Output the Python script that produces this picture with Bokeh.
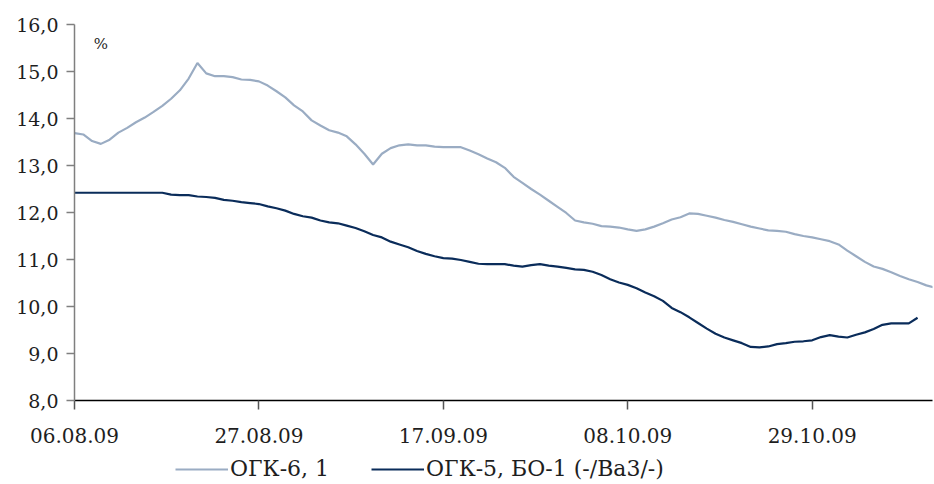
from datetime import datetime, timedelta

from bokeh.embed import file_html
from bokeh.layouts import column
from bokeh.models import (ColumnDataSource, DatetimeTickFormatter, FixedTicker,
                          Label, Legend, LegendItem, Range1d)
from bokeh.plotting import figure
from bokeh.resources import INLINE

# Daily yields, %, starting 06.08.09
start_date = "06.08.09"
ogk6_yield = [
    13.69, 13.66, 13.52, 13.46, 13.55, 13.70, 13.80, 13.92, 14.02, 14.14,
    14.27, 14.42, 14.60, 14.85, 15.18, 14.96, 14.90, 14.90, 14.88, 14.83,
    14.82, 14.79, 14.70, 14.58, 14.45, 14.28, 14.15, 13.96, 13.85, 13.75,
    13.70, 13.62, 13.45, 13.25, 13.02, 13.25, 13.37, 13.43, 13.45, 13.43,
    13.43, 13.40, 13.39, 13.39, 13.39, 13.32, 13.24, 13.15, 13.07, 12.95,
    12.76, 12.63, 12.50, 12.38, 12.25, 12.12, 11.99, 11.83, 11.79, 11.76,
    11.71, 11.70, 11.68, 11.64, 11.61, 11.64, 11.70, 11.77, 11.85, 11.90,
    11.98, 11.97, 11.93, 11.89, 11.84, 11.80, 11.75, 11.70, 11.66, 11.62,
    11.61, 11.59, 11.54, 11.50, 11.47, 11.43, 11.39, 11.32, 11.19, 11.07,
    10.95, 10.85, 10.80, 10.73, 10.65, 10.58, 10.52, 10.45, 10.40,
]
ogk5_yield = [
    12.42, 12.42, 12.42, 12.42, 12.42, 12.42, 12.42, 12.42, 12.42, 12.42,
    12.42, 12.38, 12.37, 12.37, 12.34, 12.33, 12.31, 12.27, 12.25, 12.22,
    12.20, 12.18, 12.13, 12.09, 12.04, 11.97, 11.92, 11.89, 11.83, 11.79,
    11.77, 11.72, 11.67, 11.60, 11.52, 11.47, 11.38, 11.32, 11.26, 11.18,
    11.12, 11.07, 11.03, 11.02, 10.99, 10.95, 10.91, 10.90, 10.90, 10.90,
    10.87, 10.85, 10.88, 10.90, 10.87, 10.85, 10.82, 10.79, 10.78, 10.74,
    10.67, 10.58, 10.51, 10.46, 10.39, 10.30, 10.22, 10.12, 9.97, 9.88,
    9.77, 9.65, 9.53, 9.42, 9.34, 9.28, 9.22, 9.14, 9.13, 9.15,
    9.20, 9.22, 9.25, 9.26, 9.28, 9.35, 9.39, 9.36, 9.34, 9.40,
    9.45, 9.52, 9.61, 9.64, 9.64, 9.64, 9.76,
]
x_tick_labels = ["06.08.09", "27.08.09", "17.09.09", "08.10.09", "29.10.09"]
y_ticks = [8, 9, 10, 11, 12, 13, 14, 15, 16]
series_names = ["ОГК-6, 1", "ОГК-5, БО-1 (-/Ba3/-)"]

LIGHT = "#9aacc3"
DARK = "#0a2c5a"
FONT = "DejaVu Serif"
TEXT = "#1e1e1e"


def to_ms(d):
    return (d - datetime(1970, 1, 1)).total_seconds() * 1000


day0 = datetime.strptime(start_date, "%d.%m.%y")
dates6 = [day0 + timedelta(days=i) for i in range(len(ogk6_yield))]
dates5 = [day0 + timedelta(days=i) for i in range(len(ogk5_yield))]
tick_ms = [to_ms(datetime.strptime(t, "%d.%m.%y")) for t in x_tick_labels]

src6 = ColumnDataSource(data=dict(date=dates6, y=ogk6_yield))
src5 = ColumnDataSource(data=dict(date=dates5, y=ogk5_yield))

p = figure(width=934, height=452, x_axis_type="datetime",
           output_backend="svg", toolbar_location=None,
           min_border_left=74, min_border_right=2, min_border_top=24,
           min_border_bottom=52)
p.x_range = Range1d(to_ms(day0), to_ms(day0 + timedelta(days=97.7)))
p.y_range = Range1d(8, 16)

r6 = p.line("date", "y", source=src6, color=LIGHT, line_width=2.2)
r5 = p.line("date", "y", source=src5, color=DARK, line_width=2.2)

p.grid.visible = False
p.outline_line_color = None
p.background_fill_color = "white"
p.border_fill_color = "white"

# y axis
ya = p.yaxis[0]
ya.ticker = FixedTicker(ticks=y_ticks)
ya.major_label_overrides = {t: f"{t},0" for t in y_ticks}
ya.axis_line_color = "#7f7f7f"
ya.axis_line_width = 1.5
ya.major_tick_line_color = "#7f7f7f"
ya.major_tick_line_width = 1.5
ya.major_tick_out = 8
ya.major_tick_in = 0
ya.minor_tick_out = 0
ya.minor_tick_in = 0
ya.major_label_standoff = 8
ya.major_label_text_font = FONT
ya.major_label_text_font_size = "19px"
ya.major_label_text_color = TEXT

# x axis
xa = p.xaxis[0]
xa.ticker = FixedTicker(ticks=tick_ms)
xa.formatter = DatetimeTickFormatter(days="%d.%m.%y", months="%d.%m.%y",
                                     years="%d.%m.%y")
xa.axis_line_color = "black"
xa.axis_line_width = 1.5
xa.major_tick_line_color = "#555555"
xa.major_tick_line_width = 1.5
xa.major_tick_out = 9
xa.major_tick_in = 0
xa.minor_tick_out = 0
xa.minor_tick_in = 0
xa.major_label_standoff = 18
xa.major_label_text_font = FONT
xa.major_label_text_font_size = "20px"
xa.major_label_text_color = TEXT

# unit caption in the upper-left corner of the plot area
p.add_layout(Label(x=to_ms(day0 + timedelta(days=2.2)), y=15.4, text="%",
                   text_font=FONT, text_font_size="15px", text_color=TEXT))

# legend strip under the chart; its frame is aligned with the chart's frame
lg = figure(width=934, height=32, output_backend="svg", toolbar_location=None,
            x_axis_location=None, y_axis_location=None,
            min_border=0, x_range=Range1d(0, 1), y_range=Range1d(0, 1))
lg.grid.visible = False
lg.outline_line_color = None
# key samples only: their points lie outside the strip's ranges
k6 = lg.line(x=[0, 1], y=[-5, -5], color=LIGHT, line_width=2.2)
k5 = lg.line(x=[0, 1], y=[-5, -5], color=DARK, line_width=2.2)
legend = Legend(items=[LegendItem(label=series_names[0], renderers=[k6]),
                       LegendItem(label=series_names[1], renderers=[k5])],
                orientation="horizontal", location=(101, 3),
                glyph_width=53, glyph_height=22, label_standoff=2, spacing=42,
                padding=0, margin=0, border_line_color=None,
                background_fill_alpha=0,
                label_text_font=FONT, label_text_font_size="22px",
                label_text_color=TEXT)
lg.add_layout(legend, "center")

open("out.html", "w").write(file_html(column(p, lg, spacing=0), INLINE))
